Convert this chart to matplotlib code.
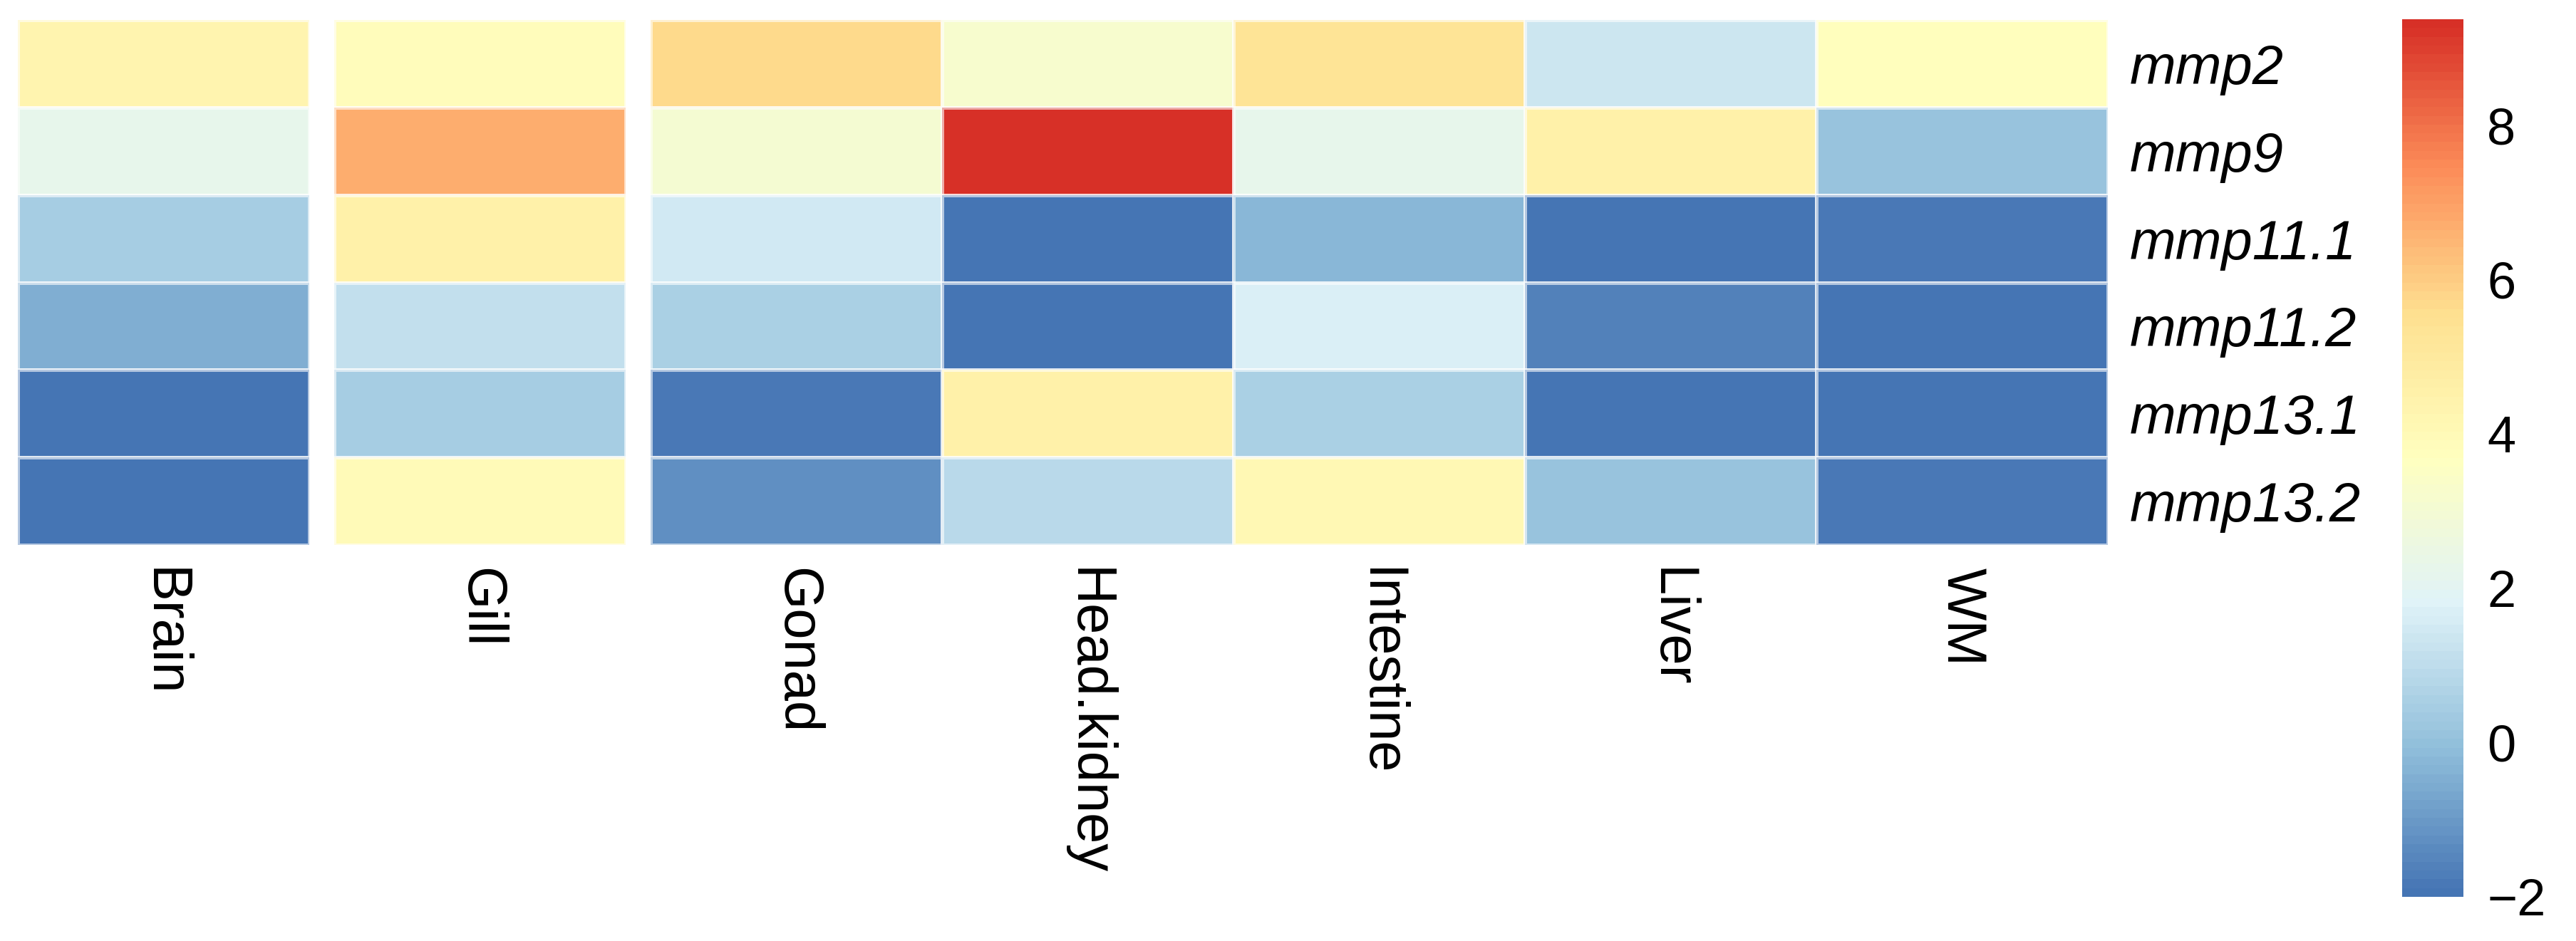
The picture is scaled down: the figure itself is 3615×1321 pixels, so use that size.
import numpy as np
import matplotlib
matplotlib.use("Agg")
import matplotlib.pyplot as plt
from matplotlib.colors import LinearSegmentedColormap, ListedColormap, Normalize

plt.rcParams['font.family'] = ['Liberation Sans', 'DejaVu Sans']

# data
tissues = ['Brain', 'Gill', 'Gonad', 'Head.kidney', 'Intestine', 'Liver', 'WM']
genes = ['mmp2', 'mmp9', 'mmp11.1', 'mmp11.2', 'mmp13.1', 'mmp13.2']

mmp2 = [4.3, 3.9, 5.7, 3.2, 5.3, 1.4, 3.8]
mmp9 = [2.3, 6.7, 3.1, 9.38, 2.3, 4.5, 0.1]
mmp11_1 = [0.4, 4.5, 1.5, -2.0, -0.2, -2.0, -1.85]
mmp11_2 = [-0.5, 1.1, 0.6, -2.0, 1.7, -1.55, -2.0]
mmp13_1 = [-2.0, 0.5, -1.88, 4.6, 0.6, -2.0, -2.0]
mmp13_2 = [-2.0, 4.0, -1.3, 0.95, 4.1, 0.05, -1.88]

col_groups = [[0], [1], [2, 3, 4, 5, 6]]   # gaps after Brain and Gill
cbar_ticks = [-2, 0, 2, 4, 6, 8]

values = np.array([mmp2, mmp9, mmp11_1, mmp11_2, mmp13_1, mmp13_2])
vmin, vmax = values.min(), values.max()

# pheatmap default palette: rev(RdYlBu 7) ramped to 100 colours
ramp = LinearSegmentedColormap.from_list(
    'rdylbu', ['#4575B4', '#91BFDB', '#E0F3F8', '#FFFFBF', '#FEE090', '#FC8D59', '#D73027'])
cmap = ListedColormap(ramp(np.linspace(0, 1, 100)))
norm = Normalize(vmin=vmin, vmax=vmax)

W, H = 3615, 1321
fig = plt.figure(figsize=(W / 100, H / 100), dpi=100)

# layout in pixels
left0, top, bottom = 25, 28, 765
cw, gap = 409, 35
fs = 56

x = left0
axes = []
for gi, grp in enumerate(col_groups):
    w = cw * len(grp)
    ax = fig.add_axes([x / W, (H - bottom) / H, w / W, (bottom - top) / H])
    sub = values[:, grp]
    ax.pcolormesh(sub, cmap=cmap, norm=norm, edgecolors=(1, 1, 1, 0.6), linewidth=3.5)
    ax.set_xlim(0, len(grp))
    ax.set_ylim(len(genes), 0)
    ax.set_xticks(np.arange(len(grp)) + 0.5)
    ax.set_xticklabels([tissues[i] for i in grp], rotation=-90, fontsize=fs,
                       ha='center', va='top')
    ax.tick_params(axis='x', length=0, pad=23)
    ax.set_yticks([])
    for s in ax.spines.values():
        s.set_visible(False)
    axes.append(ax)
    x += w + gap

# gene names to the right of the last block
last = axes[-1]
last.yaxis.tick_right()
last.set_yticks(np.arange(len(genes)) + 0.5)
last.set_yticklabels(genes, fontsize=fs, style='italic')
last.tick_params(axis='y', length=0, pad=22)

# colour legend
cax = fig.add_axes([3371 / W, (H - 1259) / H, 86 / W, (1259 - 27) / H])
cb = fig.colorbar(plt.cm.ScalarMappable(norm=norm, cmap=cmap), cax=cax)
cb.outline.set_visible(False)
cb.set_ticks(cbar_ticks)
cb.ax.tick_params(length=0, pad=24, labelsize=52)

fig.savefig('out.png', dpi=100, facecolor='white')
